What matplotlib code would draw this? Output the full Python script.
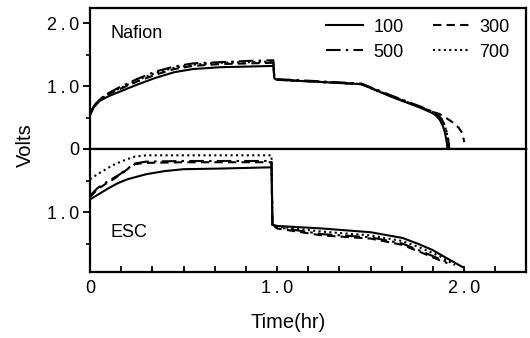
import numpy as np
import matplotlib.pyplot as plt
from matplotlib.ticker import MultipleLocator

plt.rcParams['font.family'] = ['Liberation Sans', 'DejaVu Sans']

# Nafion cell (top panel), volts vs time in hours
naf_t_100 = [0, 0.02, 0.05, 0.10, 0.15, 0.25, 0.35, 0.45, 0.55, 0.70, 0.85, 0.98,
             0.985, 1.00, 1.20, 1.45, 1.61, 1.77, 1.83, 1.85, 1.87, 1.885, 1.895,
             1.903, 1.908, 1.91]
naf_v_100 = [0.54, 0.66, 0.76, 0.84, 0.90, 1.02, 1.13, 1.22, 1.27, 1.30, 1.31, 1.32,
             1.12, 1.10, 1.07, 1.03, 0.83, 0.65, 0.57, 0.53, 0.46, 0.37, 0.28,
             0.17, 0.08, 0.0]
naf_t_300 = [0, 0.02, 0.05, 0.10, 0.15, 0.25, 0.35, 0.45, 0.55, 0.70, 0.85, 0.98,
             0.985, 1.00, 1.20, 1.45, 1.61, 1.77, 1.83, 1.865, 1.90, 1.935, 1.97,
             1.99, 2.00]
naf_v_300 = [0.55, 0.67, 0.78, 0.87, 0.94, 1.07, 1.18, 1.27, 1.32, 1.35, 1.36, 1.37,
             1.12, 1.10, 1.07, 1.03, 0.84, 0.66, 0.59, 0.56, 0.50, 0.43, 0.34,
             0.25, 0.11]
naf_t_500 = [0, 0.02, 0.05, 0.10, 0.15, 0.25, 0.35, 0.45, 0.55, 0.70, 0.85, 0.98,
             0.985, 1.00, 1.20, 1.45, 1.61, 1.77, 1.84, 1.86, 1.88, 1.895, 1.905,
             1.913, 1.918, 1.92]
naf_v_500 = [0.55, 0.68, 0.79, 0.89, 0.97, 1.11, 1.23, 1.31, 1.36, 1.38, 1.40, 1.41,
             1.13, 1.11, 1.08, 1.04, 0.85, 0.67, 0.58, 0.54, 0.47, 0.38, 0.28,
             0.17, 0.08, 0.0]
naf_t_700 = [0, 0.02, 0.05, 0.10, 0.15, 0.25, 0.35, 0.45, 0.55, 0.70, 0.85, 0.98,
             0.985, 1.00, 1.20, 1.45, 1.61, 1.77, 1.84, 1.86, 1.88, 1.895, 1.905,
             1.913, 1.918, 1.92]
naf_v_700 = [0.55, 0.68, 0.78, 0.88, 0.95, 1.09, 1.21, 1.29, 1.34, 1.37, 1.38, 1.39,
             1.12, 1.10, 1.07, 1.03, 0.84, 0.66, 0.58, 0.54, 0.47, 0.38, 0.28,
             0.17, 0.08, 0.0]

# ESC cell (bottom panel, inverted axis), volts vs time in hours
esc_t_100 = [0, 0.05, 0.10, 0.15, 0.20, 0.30, 0.40, 0.50, 0.70, 0.97,
             0.975, 1.00, 1.24, 1.50, 1.67, 1.75, 1.83, 1.90, 1.99]
esc_v_100 = [0.80, 0.71, 0.62, 0.54, 0.48, 0.40, 0.35, 0.32, 0.31, 0.29,
             1.20, 1.22, 1.26, 1.32, 1.41, 1.50, 1.60, 1.72, 1.87]
esc_t_300 = [0, 0.04, 0.08, 0.12, 0.16, 0.20, 0.24, 0.30, 0.50, 0.97,
             0.975, 1.00, 1.24, 1.50, 1.67, 1.77, 1.85, 1.91]
esc_v_300 = [0.76, 0.64, 0.56, 0.49, 0.41, 0.32, 0.24, 0.22, 0.21, 0.21,
             1.20, 1.26, 1.37, 1.42, 1.52, 1.64, 1.74, 1.81]
esc_t_500 = [0, 0.04, 0.08, 0.12, 0.16, 0.20, 0.24, 0.30, 0.50, 0.97,
             0.975, 1.00, 1.24, 1.50, 1.67, 1.77, 1.85, 1.91]
esc_v_500 = [0.74, 0.62, 0.54, 0.47, 0.40, 0.31, 0.23, 0.20, 0.19, 0.19,
             1.20, 1.24, 1.35, 1.40, 1.50, 1.62, 1.72, 1.79]
esc_t_700 = [0, 0.04, 0.08, 0.12, 0.15, 0.20, 0.24, 0.30, 0.50, 0.97,
             0.975, 1.00, 1.24, 1.50, 1.67, 1.77, 1.87, 1.95]
esc_v_700 = [0.48, 0.40, 0.33, 0.26, 0.22, 0.16, 0.12, 0.10, 0.10, 0.10,
             1.20, 1.23, 1.31, 1.37, 1.46, 1.57, 1.70, 1.84]

labels = ['100', '300', '500', '700']
styles = ['-', (0, (4, 2.5)), (0, (7, 2.5, 1.2, 2.5)), (0, (1, 1.6))]

fig = plt.figure(figsize=(5.3, 3.38), dpi=100)
ax1 = fig.add_axes([90 / 530, 1 - 149 / 338, 436 / 530, 141 / 338])
ax2 = fig.add_axes([90 / 530, 1 - 272 / 338, 436 / 530, 123 / 338])

naf = [(naf_t_100, naf_v_100), (naf_t_300, naf_v_300),
       (naf_t_500, naf_v_500), (naf_t_700, naf_v_700)]
esc = [(esc_t_100, esc_v_100), (esc_t_300, esc_v_300),
       (esc_t_500, esc_v_500), (esc_t_700, esc_v_700)]

handles = []
for (t, v), ls, lab in zip(naf, styles, labels):
    h, = ax1.plot(t, v, color='black', linestyle=ls, linewidth=1.5, label=lab)
    handles.append(h)
for (t, v), ls in zip(esc, styles):
    ax2.plot(t, v, color='black', linestyle=ls, linewidth=1.5)

for ax in (ax1, ax2):
    ax.set_xlim(0, 2.33)
    for s in ax.spines.values():
        s.set_linewidth(1.6)
    ax.yaxis.set_minor_locator(MultipleLocator(0.5))
    ax.tick_params(axis='y', which='major', direction='out', length=5, width=1.3,
                   labelsize=13, pad=3)
    ax.tick_params(axis='y', which='minor', direction='out', length=3, width=1.2)

ts = '\u2009'
ax1.set_ylim(0, 2.24)
ax1.set_yticks([0, 1, 2])
ax1.set_yticklabels(['0', '1' + ts + '.' + ts + '0', '2' + ts + '.' + ts + '0'])
ax1.tick_params(axis='x', which='both', bottom=False, labelbottom=False)

ax2.set_ylim(1.95, 0)
ax2.set_yticks([0, 1])
ax2.set_yticklabels(['', '1' + ts + '.' + ts + '0'])
ax2.set_xticks([0, 1, 2])
ax2.set_xticklabels(['0', '1' + ts + '.' + ts + '0', '2' + ts + '.' + ts + '0'])
ax2.xaxis.set_minor_locator(MultipleLocator(1 / 6))
ax2.tick_params(axis='x', which='both', direction='in', length=4, width=1.3,
                labelsize=13, pad=6)

ax1.text(0.11, 1.84, 'Nafion', fontsize=13, va='center')
ax2.text(0.11, 1.32, 'ESC', fontsize=13, va='center')

# legend rows: 100 / 300 on top, 500 / 700 below
order = [0, 2, 1, 3]
ax1.legend([handles[i] for i in order], [labels[i] for i in order],
           ncol=2, frameon=False, loc='upper right', bbox_to_anchor=(1.0, 1.04),
           fontsize=13, handlelength=2.0, handletextpad=0.6, columnspacing=1.6,
           labelspacing=0.45)

fig.text(25 / 530, 1 - 145 / 338, 'Volts', rotation=90, fontsize=14.5,
         ha='center', va='center')
fig.text(288 / 530, 1 - 323 / 338, 'Time(hr)', fontsize=14.5, ha='center', va='center')

fig.savefig('out.png', dpi=100)
